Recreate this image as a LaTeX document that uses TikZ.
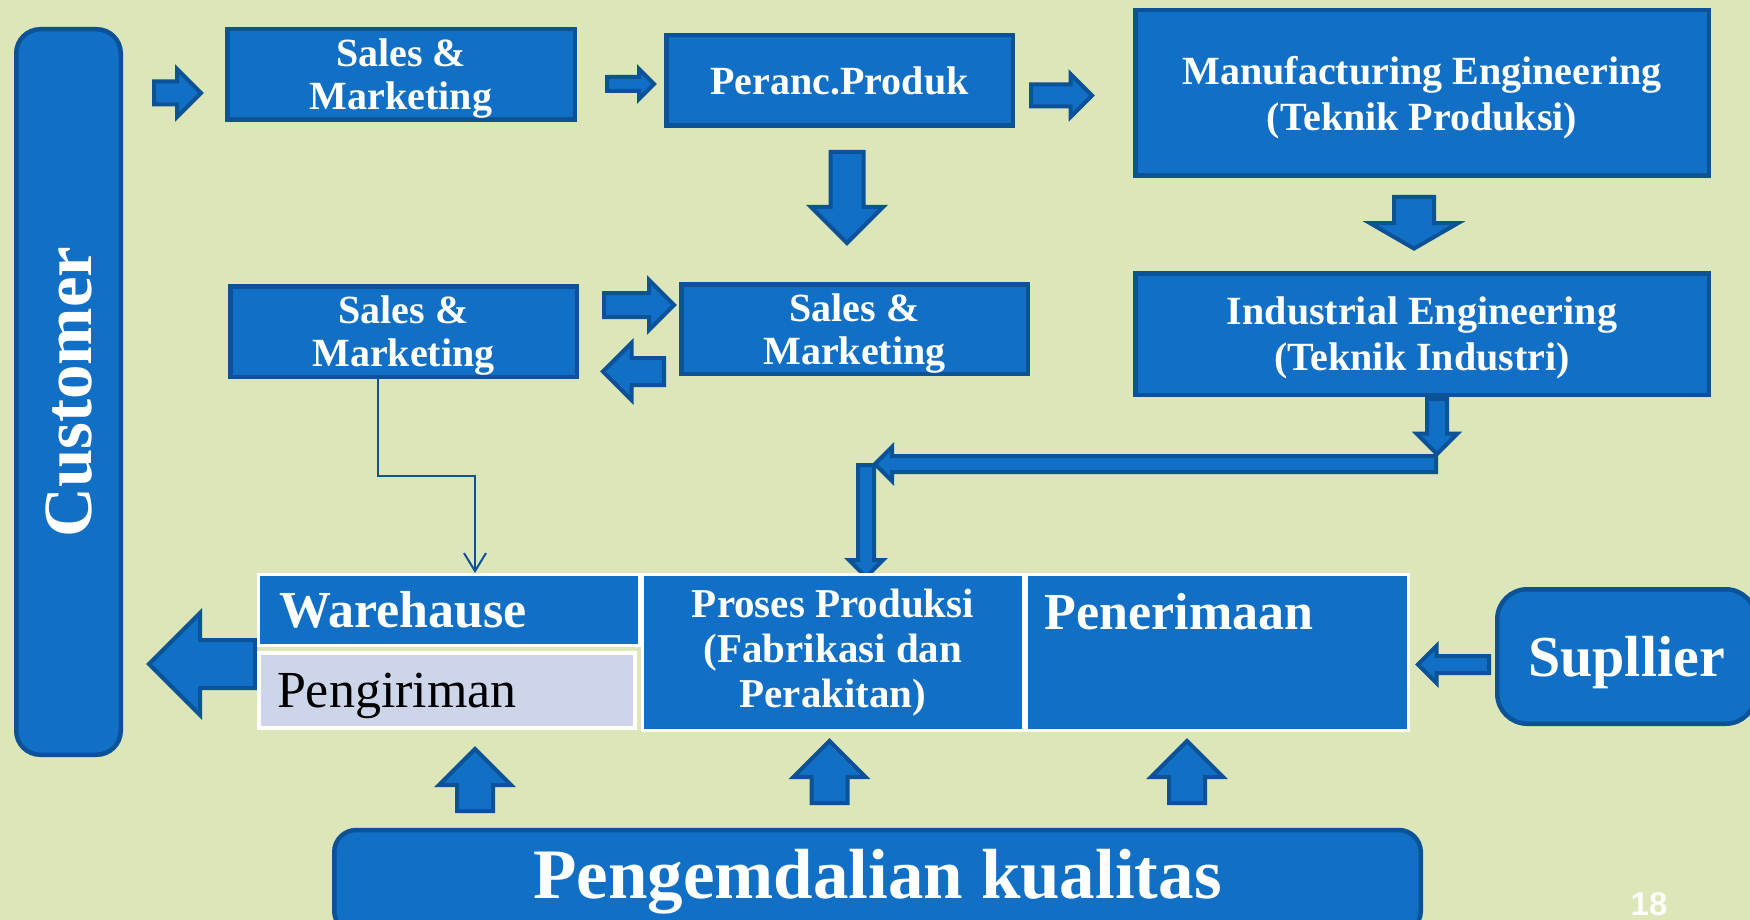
\documentclass[tikz,border=0pt]{standalone}
\usepackage{fontspec}
\setmainfont{Liberation Serif}
\setsansfont{Liberation Sans}
\usetikzlibrary{positioning,shapes.arrows,arrows.meta}
\definecolor{bg}{HTML}{DDE6B9}
\definecolor{blu}{HTML}{1170C6}
\definecolor{bdr}{HTML}{0B5296}
\definecolor{lav}{HTML}{CDD5EA}

\begin{document}
\begin{tikzpicture}[x=1pt, y=-1pt,
  box/.style = {draw=bdr, fill=blu, line width=4.5pt, inner sep=0pt, text=white,
    align=center, text depth=0pt, font=\bfseries\fontsize{40}{43}\selectfont},
  rbox/.style = {box, rounded corners=24pt},
  blk/.style n args = {3}{single arrow, draw=bdr, fill=blu, line width=4pt,
    inner sep=#1, single arrow head extend=#2, minimum height=#3, anchor=tail},
  cell/.style = {draw=white, line width=3pt, fill=blu, inner sep=0pt, text=white},
  link/.style = {draw=bdr, line width=2pt, -{Straight Barb[length=18pt,width=22pt]}}
]
\fill[bg] (0,0) rectangle (1750,920);
\useasboundingbox (0,0) rectangle (1750,920);

% boxes
\node[rbox, rotate=90, minimum width=725.5, minimum height=104.5,
  font=\bfseries\fontsize{69}{72}\selectfont] (cust) at (68.5,392) {Customer};
\node[box, minimum width=347.5, minimum height=90.5] (sm1) at (401,74.5) {Sales \&\\Marketing};
\node[box, minimum width=346.5, minimum height=90.5] (prod) at (839.5,80.5) {Peranc.Produk};
\node[box, minimum width=573.5, minimum height=165.5, font=\bfseries\fontsize{40}{46}\selectfont]
  (mfg) at (1422,93) {Manufacturing Engineering\\(Teknik Produksi)};
\node[box, minimum width=346.5, minimum height=90.5] (sm2) at (403.5,331.5) {Sales \&\\Marketing};
\node[box, minimum width=346.5, minimum height=89.5] (sm3) at (854.5,329) {Sales \&\\Marketing};
\node[box, minimum width=573.5, minimum height=121.5, font=\bfseries\fontsize{40}{46}\selectfont]
  (ie) at (1422,334) {Industrial Engineering\\(Teknik Industri)};

% block arrows
\node[blk={9.5}{12.5}{47}] (a1) at (152,93) {};
\node[blk={5}{8}{47}] (a2) at (605,84) {};
\node[blk={9}{10.5}{61}] (a3) at (1029,95.5) {};
\node[blk={14.5}{19.5}{91}, shape border rotate=270] (a4) at (847,150) {};
\node[blk={18}{24}{46}, shape border rotate=270, single arrow tip angle=120] (a5) at (1414,195) {};
\node[blk={10}{13}{70}] (a6) at (602,305) {};
\node[blk={11.5}{15}{61}, shape border rotate=180] (a7) at (666,371.5) {};
\node[blk={8}{10.5}{55}, shape border rotate=270] (a8) at (1437,397) {};
\node[blk={6}{9}{561}, shape border rotate=180] (a9) at (1438,464) {};
\node[blk={6}{9}{112}, shape border rotate=270] (a10) at (866,463) {};
\node[blk={22}{27}{106}, shape border rotate=180] (a11) at (257,664) {};
\node[blk={6.5}{10}{71}, shape border rotate=180] (a12) at (1491,664.5) {};
\node[blk={16}{18}{62}, shape border rotate=90] (u1) at (475,813) {};
\node[blk={16}{18}{62}, shape border rotate=90] (u2) at (829.5,805) {};
\node[blk={16}{18}{62}, shape border rotate=90] (u3) at (1187,805) {};

% table
\node[cell, minimum width=381, minimum height=71, text width=340, align=left,
  font=\bfseries\fontsize{52}{56}\selectfont] (wh) at (449,610) {Warehause};
\node[cell, fill=lav, line width=4pt, minimum width=376, minimum height=75, text width=340,
  align=left, text=black, text depth=0pt, font=\fontsize{52}{56}\selectfont] (pg) at (447,690.5) {Pengiriman};
\node[cell, minimum width=381, minimum height=156, align=center,
  font=\bfseries\fontsize{41}{45}\selectfont] (pp) at (833,652.5) {Proses Produksi\\(Fabrikasi dan\\Perakitan)};
\node[cell, minimum width=382, minimum height=156] (pn) at (1217.5,652.5) {};
\node[anchor=base west, inner sep=0pt, text=white, font=\bfseries\fontsize{52}{56}\selectfont]
  (pnt) at ([shift={(19.5,56)}]pn.north west) {Penerimaan};

\node[rbox, rounded corners=30pt, minimum width=258.5, minimum height=134.5,
  font=\bfseries\fontsize{58}{62}\selectfont] (sup) at (1626.5,656.5) {Supllier};
\node[rbox, rounded corners=22pt, minimum width=1086.5, minimum height=103, text depth=15pt,
  font=\bfseries\fontsize{71}{75}\selectfont] (qc) at (877.5,881.5) {Pengemdalian kualitas};
\node[anchor=north, inner sep=0pt, text=white!92!bg,
  font=\sffamily\bfseries\fontsize{33}{36}\selectfont] (pgno) at (1649,892) {18};

% thin link
\coordinate (whin) at ([xshift=26pt]wh.north);
\draw[link] ([xshift=-25.5pt]sm2.south) -- ++(0,97) -| (whin);
\end{tikzpicture}
\end{document}
